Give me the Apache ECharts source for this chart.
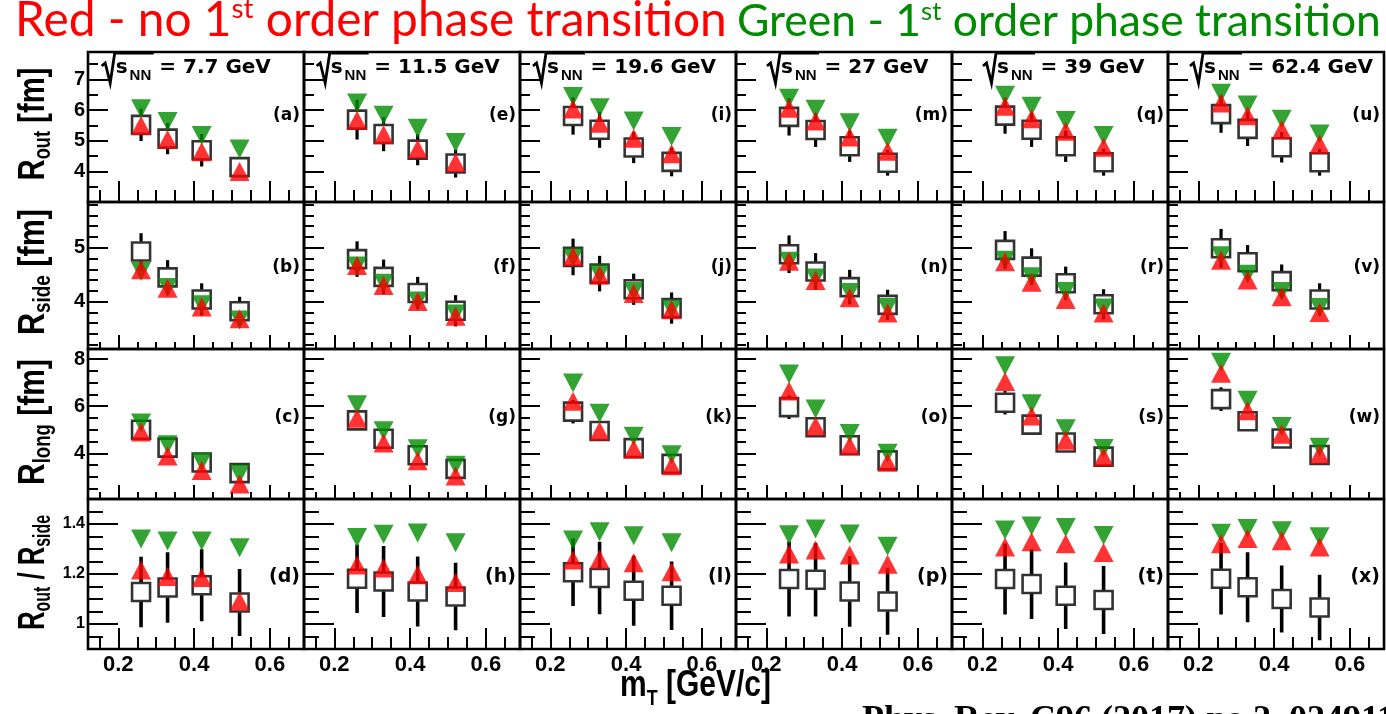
<!DOCTYPE html>
<html>
<head>
<meta charset="utf-8">
<script src="https://cdn.jsdelivr.net/npm/echarts@6/dist/echarts.min.js"></script>
<style>
  html, body { margin: 0; padding: 0; background: #fff; }
  #chart { width: 1386px; height: 714px; }
</style>
</head>
<body>
<div id="chart"></div>
<script>
// ---- data -----------------------------------------------------------------
// transverse mass of the pair bins (GeV/c)
const mT = [0.26, 0.33, 0.42, 0.52];
const energies = ['7.7', '11.5', '19.6', '27', '39', '62.4'];

// R_out [fm]: measured points (open squares), their errors,
// model without 1st order transition (red) and with it (green); one row per energy
const routData = [
  [5.52, 5.07, 4.69, 4.14], [5.69, 5.22, 4.71, 4.26], [5.81, 5.36, 4.78, 4.31],
  [5.78, 5.35, 4.82, 4.28], [5.82, 5.36, 4.82, 4.30], [5.87, 5.39, 4.79, 4.30]
];
const routErr = [
  [0.53, 0.51, 0.53, 0.30], [0.65, 0.56, 0.51, 0.46], [0.61, 0.59, 0.51, 0.47],
  [0.61, 0.55, 0.51, 0.42], [0.59, 0.56, 0.51, 0.44], [0.61, 0.56, 0.50, 0.44]
];
const routNoPT = [
  [5.50, 5.04, 4.64, 4.00], [5.67, 5.20, 4.73, 4.29], [6.04, 5.57, 5.08, 4.58],
  [6.06, 5.65, 5.12, 4.66], [6.13, 5.72, 5.31, 4.79], [6.23, 5.82, 5.36, 4.89]
];
const routPT = [
  [6.05, 5.63, 5.17, 4.73], [6.23, 5.83, 5.41, 4.94], [6.45, 6.08, 5.65, 5.14],
  [6.39, 6.03, 5.59, 5.08], [6.49, 6.13, 5.66, 5.17], [6.55, 6.17, 5.70, 5.22]
];

// R_side [fm]
const rsideData = [
  [4.93, 4.45, 4.04, 3.82], [4.79, 4.46, 4.16, 3.83], [4.83, 4.52, 4.23, 3.88],
  [4.88, 4.56, 4.27, 3.94], [4.96, 4.65, 4.34, 3.95], [4.99, 4.73, 4.38, 4.04]
];
const rsideErr = [
  [0.34, 0.32, 0.30, 0.27], [0.33, 0.32, 0.30, 0.29], [0.34, 0.33, 0.29, 0.29],
  [0.35, 0.34, 0.32, 0.28], [0.35, 0.34, 0.31, 0.28], [0.36, 0.32, 0.31, 0.30]
];
const rsideNoPT = [
  [4.59, 4.25, 3.90, 3.68], [4.67, 4.30, 4.00, 3.73], [4.84, 4.49, 4.15, 3.85],
  [4.75, 4.39, 4.07, 3.79], [4.74, 4.36, 4.04, 3.79], [4.77, 4.40, 4.09, 3.80]
];
const rsidePT = [
  [4.56, 4.26, 3.94, 3.66], [4.66, 4.34, 4.01, 3.77], [4.81, 4.51, 4.19, 3.86],
  [4.75, 4.44, 4.17, 3.89], [4.77, 4.46, 4.19, 3.88], [4.85, 4.51, 4.19, 3.89]
];

// R_long [fm]
const rlongData = [
  [5.00, 4.24, 3.61, 3.16], [5.40, 4.62, 3.92, 3.34], [5.77, 4.95, 4.22, 3.55],
  [5.96, 5.11, 4.34, 3.70], [6.15, 5.22, 4.46, 3.86], [6.30, 5.36, 4.63, 3.93]
];
const rlongErr = [
  [0.35, 0.35, 0.35, 0.35], [0.35, 0.35, 0.35, 0.35], [0.50, 0.35, 0.35, 0.35],
  [0.50, 0.35, 0.35, 0.35], [0.50, 0.35, 0.35, 0.35], [0.50, 0.35, 0.35, 0.35]
];
const rlongNoPT = [
  [4.90, 3.89, 3.27, 2.70], [5.49, 4.44, 3.68, 3.04], [6.21, 4.95, 4.18, 3.47],
  [6.65, 5.16, 4.32, 3.62], [7.05, 5.58, 4.56, 3.85], [7.40, 5.81, 4.81, 3.96]
];
const rlongPT = [
  [5.29, 4.36, 3.63, 3.11], [6.06, 4.96, 4.19, 3.49], [6.99, 5.70, 4.72, 3.94],
  [7.37, 5.88, 4.84, 4.00], [7.72, 6.11, 5.04, 4.20], [7.87, 6.25, 5.14, 4.26]
];

// R_out / R_side
const ratioData = [
  [1.128, 1.146, 1.155, 1.086], [1.181, 1.170, 1.130, 1.110], [1.207, 1.184, 1.133, 1.113],
  [1.180, 1.177, 1.130, 1.090], [1.180, 1.160, 1.113, 1.096], [1.181, 1.147, 1.100, 1.066]
];
const ratioErr = [
  [0.141, 0.141, 0.144, 0.134], [0.137, 0.142, 0.140, 0.135], [0.135, 0.145, 0.140, 0.137],
  [0.150, 0.147, 0.141, 0.133], [0.142, 0.140, 0.133, 0.136], [0.143, 0.140, 0.134, 0.131]
];
const ratioNoPT = [
  [1.216, 1.190, 1.186, 1.091], [1.236, 1.224, 1.197, 1.166], [1.256, 1.259, 1.245, 1.209],
  [1.280, 1.296, 1.276, 1.239], [1.308, 1.329, 1.321, 1.286], [1.321, 1.342, 1.333, 1.308]
];
const ratioPT = [
  [1.340, 1.332, 1.332, 1.305], [1.346, 1.359, 1.364, 1.325], [1.336, 1.369, 1.353, 1.325],
  [1.357, 1.380, 1.360, 1.311], [1.376, 1.392, 1.386, 1.354], [1.363, 1.382, 1.373, 1.349]
];

// tick labels
const xTickLabels = [0.2, 0.4, 0.6];
const yTickLabels = [[4, 5, 6, 7], [4, 5], [4, 6, 8], [1, 1.2, 1.4]];
const panelLetters = [
  ['a', 'e', 'i', 'm', 'q', 'u'],
  ['b', 'f', 'j', 'n', 'r', 'v'],
  ['c', 'g', 'k', 'o', 's', 'w'],
  ['d', 'h', 'l', 'p', 't', 'x']
];

// ---- layout / style -------------------------------------------------------
const RED = '#ff0000';
const GREEN = '#008c00';
const FRAME_W = 2.6;
const colLeft = [88, 304, 520, 736, 952, 1168];
const colWidth = 216;
const rowTop = [52, 202, 349, 499];
const rowBottom = [202, 349, 499, 649];
const xRange = [0.12, 0.69];
const yRange = [[3, 7.9], [3.12, 5.85], [2.06, 8.43], [0.9, 1.5]];
const yMinorSplit = [2, 5, 4, 4];

const rows = [
  { data: routData, err: routErr, noPT: routNoPT, pt: routPT },
  { data: rsideData, err: rsideErr, noPT: rsideNoPT, pt: rsidePT },
  { data: rlongData, err: rlongErr, noPT: rlongNoPT, pt: rlongPT },
  { data: ratioData, err: ratioErr, noPT: ratioNoPT, pt: ratioPT }
];

// ---- text helpers -----------------------------------------------------------
const measureCtx = document.createElement('canvas').getContext('2d');
function textWidth(str, font) { measureCtx.font = font; return measureCtx.measureText(str).width; }
// distance of the canvas "middle" baseline above the alphabetic baseline (per em)
const MID = { 'Liberation Sans': 0.3465, 'DejaVu Sans': 0.346, 'Lato': 0.387, 'Liberation Serif': 0.3375 };

function fontOf(p) { return (p.weight || 'bold') + ' ' + p.size + 'px "' + p.family + '"'; }

// a run of text pieces sharing one baseline (group origin = baseline anchor)
function textRun(pieces, opt) {
  let x = 0;
  const kids = [];
  for (const p of pieces) {
    x += p.dx || 0;
    const font = fontOf(p);
    kids.push({
      type: 'text', x: x, y: (p.dy || 0) - MID[p.family] * p.size, silent: true,
      style: { text: p.text, font: font, fill: p.fill || '#000', textAlign: 'left', verticalAlign: 'middle' }
    });
    x += textWidth(p.text, font);
  }
  const shift = opt.align === 'center' ? -x / 2 : (opt.align === 'right' ? -x : 0);
  kids.forEach(k => { k.x += shift; });
  let sx = opt.scaleX || 1;
  if (opt.length) sx = opt.length / x;
  return {
    type: 'group', x: opt.x, y: opt.y, rotation: opt.rotation || 0,
    scaleX: sx, scaleY: opt.scaleY || 1, silent: true, children: kids
  };
}
function runWidth(pieces) {
  let w = 0;
  for (const p of pieces) w += (p.dx || 0) + textWidth(p.text, fontOf(p));
  return w;
}

// ---- error bars, leaving the inside of the open square empty ---------------
const HALF_SQUARE = 10;
function renderErrorBar(params, api) {
  const x = api.value(0), y = api.value(1), e = api.value(2);
  const c = api.coord([x, y]);
  const hi = api.coord([x, y + e]);
  const lo = api.coord([x, y - e]);
  const lw = params.seriesName === 'ratio' ? 3.6 : 3.2;
  const kids = [];
  if (hi[1] < c[1] - HALF_SQUARE) {
    kids.push({ type: 'line', shape: { x1: c[0], y1: hi[1], x2: c[0], y2: c[1] - HALF_SQUARE },
      style: { stroke: '#000', lineWidth: lw } });
  }
  if (lo[1] > c[1] + HALF_SQUARE) {
    kids.push({ type: 'line', shape: { x1: c[0], y1: c[1] + HALF_SQUARE, x2: c[0], y2: lo[1] },
      style: { stroke: '#000', lineWidth: lw } });
  }
  return { type: 'group', children: kids };
}

function pickLabel(list) {
  return function (v) {
    for (const t of list) if (Math.abs(v - t) < 1e-6) return String(t);
    return '';
  };
}

// ---- grids, axes, series ----------------------------------------------------
const grids = [], xAxes = [], yAxes = [], series = [];
for (let r = 0; r < 4; r++) {
  for (let c = 0; c < 6; c++) {
    const idx = r * 6 + c;
    grids.push({
      left: colLeft[c], top: rowTop[r], width: colWidth, height: rowBottom[r] - rowTop[r],
      show: true, borderColor: '#000', borderWidth: FRAME_W, backgroundColor: 'transparent',
      containLabel: false, outerBoundsMode: 'none'
    });
    const longX = (r === 0 || r === 3);
    xAxes.push({
      gridIndex: idx, type: 'value', min: xRange[0], max: xRange[1], splitNumber: 3,
      axisLine: { show: false },
      axisTick: { show: true, inside: true, length: longX ? 21 : 14, lineStyle: { color: '#000', width: 2 } },
      minorTick: { show: true, splitNumber: 4, length: longX ? 12 : 7, lineStyle: { color: '#000', width: 2 } },
      splitLine: { show: false }, minorSplitLine: { show: false },
      axisLabel: {
        show: r === 3, formatter: pickLabel(xTickLabels), margin: 5,
        color: '#000', fontFamily: 'Liberation Sans', fontWeight: 'bold', fontSize: 22
      }
    });
    const yAx = {
      gridIndex: idx, type: 'value', min: yRange[r][0], max: yRange[r][1], splitNumber: 3,
      axisLine: { show: false },
      axisTick: { show: true, inside: true, length: r === 3 ? 30 : 20, lineStyle: { color: '#000', width: 2 } },
      minorTick: { show: true, splitNumber: yMinorSplit[r], length: r === 3 ? 15 : 10, lineStyle: { color: '#000', width: 2 } },
      splitLine: { show: false }, minorSplitLine: { show: false },
      axisLabel: {
        show: c === 0, formatter: pickLabel(yTickLabels[r]), margin: 3,
        color: '#000', fontFamily: 'Liberation Sans', fontWeight: 'bold', fontSize: r === 3 ? 16 : 20
      }
    };
    if (r === 0) yAx.interval = 1;
    yAxes.push(yAx);

    const row = rows[r];
    series.push({
      type: 'custom', name: r === 3 ? 'ratio' : 'radius', xAxisIndex: idx, yAxisIndex: idx,
      renderItem: renderErrorBar, encode: { x: 0, y: 1 }, z: 2, silent: true,
      data: mT.map((x, i) => [x, row.data[c][i], row.err[c][i]])
    });
    series.push({
      type: 'scatter', xAxisIndex: idx, yAxisIndex: idx, symbol: 'rect', symbolSize: 18,
      itemStyle: { color: 'rgba(0,0,0,0)', borderColor: '#000', borderWidth: 2.6 },
      z: 3, silent: true, data: mT.map((x, i) => [x, row.data[c][i]])
    });
    series.push({
      type: 'scatter', xAxisIndex: idx, yAxisIndex: idx, symbol: 'triangle', symbolRotate: 180,
      symbolSize: [20, 19], itemStyle: { color: GREEN }, z: 4, silent: true,
      data: mT.map((x, i) => [x, row.pt[c][i]])
    });
    series.push({
      type: 'scatter', xAxisIndex: idx, yAxisIndex: idx, symbol: 'triangle',
      symbolSize: [20, 19], itemStyle: { color: RED }, z: 5, silent: true,
      data: mT.map((x, i) => [x, row.noPT[c][i]])
    });
  }
}

// ---- annotations --------------------------------------------------------------
const graphics = [];

// headline in two colours, each run sized to its span
function headPieces(size, lead, color) {
  return [
    { text: lead, size: size, family: 'Lato', weight: 'normal', fill: color },
    { text: 'st', size: size * 0.58, family: 'Lato', weight: 'normal', fill: color, dy: -size * 0.40 },
    { text: ' order phase transition', size: size, family: 'Lato', weight: 'normal', fill: color }
  ];
}
const redHeadSize = 40 * 712 / runWidth(headPieces(40, 'Red - no 1', RED));
const greenHeadSize = 40 * 644 / runWidth(headPieces(40, 'Green - 1', GREEN));
graphics.push(textRun(headPieces(redHeadSize, 'Red - no 1', RED), { x: 15, y: 39 }));
graphics.push(textRun(headPieces(greenHeadSize, 'Green - 1', GREEN), { x: 737, y: 39 }));

// collision energy labels with a drawn radical sign
const radicalLeft = [101.7, 316.7, 533, 767, 983, 1190];
energies.forEach((e, c) => {
  const L = radicalLeft[c];
  graphics.push({
    type: 'polyline', silent: true,
    shape: { points: [[L, 66], [L + 3.5, 63], [L + 8.5, 83], [L + 13, 53.2], [L + 52, 53.2]] },
    style: { stroke: '#000', lineWidth: 2.8, fill: null }
  });
  graphics.push(textRun([
    { text: 's', size: 20, family: 'DejaVu Sans' },
    { text: 'NN', size: 15, family: 'Liberation Sans', dy: 6, dx: 2 },
    { text: '= ' + e + ' GeV', size: 20, family: 'DejaVu Sans', dx: 8 }
  ], { x: L + 14, y: 75 }));
});

// panel letters
const letterY = [116, 268, 418, 577];
const letterSize = [17, 17, 17, 19];
for (let r = 0; r < 4; r++) {
  for (let c = 0; c < 6; c++) {
    graphics.push({
      type: 'text', x: colLeft[c] + colWidth - 4, y: letterY[r], silent: true,
      style: { text: '(' + panelLetters[r][c] + ')', font: 'bold ' + letterSize[r] + 'px "DejaVu Sans"',
        fill: '#000', textAlign: 'right', verticalAlign: 'middle' }
    });
  }
}

// vertical axis titles
const SUB = 18.6;
const yTitles = [
  { pieces: [{ text: 'R', size: 30, family: 'Liberation Sans' }, { text: 'out', size: SUB, family: 'Liberation Sans', dy: 4 },
             { text: ' [fm]', size: 30, family: 'Liberation Sans' }], y: 124, length: 113 },
  { pieces: [{ text: 'R', size: 30, family: 'Liberation Sans' }, { text: 'side', size: SUB, family: 'Liberation Sans', dy: 4 },
             { text: ' [fm]', size: 30, family: 'Liberation Sans' }], y: 272, length: 126 },
  { pieces: [{ text: 'R', size: 30, family: 'Liberation Sans' }, { text: 'long', size: SUB, family: 'Liberation Sans', dy: 4 },
             { text: ' [fm]', size: 30, family: 'Liberation Sans' }], y: 422, length: 126 },
  { pieces: [{ text: 'R', size: 30, family: 'Liberation Sans' }, { text: 'out', size: SUB, family: 'Liberation Sans', dy: 4 },
             { text: ' / R', size: 30, family: 'Liberation Sans' }, { text: 'side', size: SUB, family: 'Liberation Sans', dy: 4 }],
    y: 572.5, length: 115 }
];
yTitles.forEach(t => {
  graphics.push(textRun(t.pieces, { x: 47, y: t.y, rotation: Math.PI / 2, align: 'center', length: t.length, scaleY: 1.25 }));
});

// horizontal axis title
graphics.push(textRun([
  { text: 'm', size: 30, family: 'Liberation Sans' },
  { text: 'T', size: 18, family: 'Liberation Sans', dy: 6 },
  { text: ' [GeV/c]', size: 30, family: 'Liberation Sans' }
], { x: 620, y: 699, scaleY: 1.2 }));

// reference line at the bottom edge
graphics.push({
  type: 'text', x: 862, y: 721, silent: true,
  style: { text: 'Phys. Rev. C96 (2017) no.2, 024911', font: 'bold 36px "Liberation Serif"',
    fill: '#000', textAlign: 'left', verticalAlign: 'middle' }
});

const chart = echarts.init(document.getElementById('chart'), null, { renderer: 'canvas', width: 1386, height: 714 });
chart.setOption({
  animation: false,
  backgroundColor: '#ffffff',
  grid: grids,
  xAxis: xAxes,
  yAxis: yAxes,
  series: series,
  graphic: { elements: graphics }
});
</script>
</body>
</html>
